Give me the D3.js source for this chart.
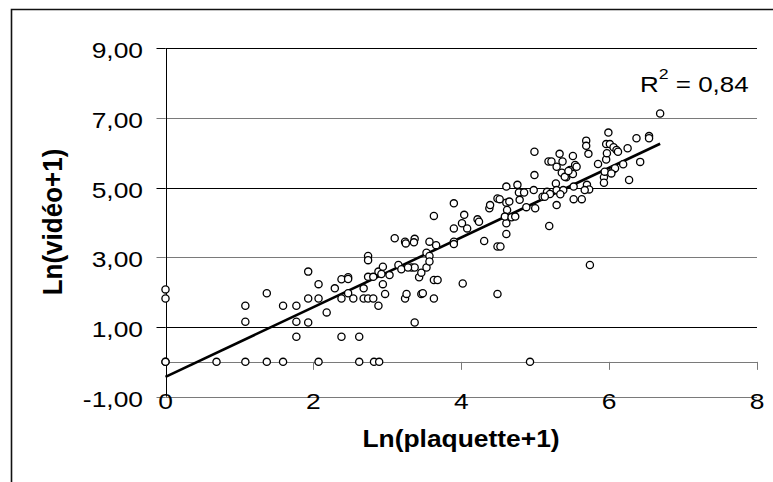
<!DOCTYPE html>
<html><head><meta charset="utf-8">
<script src="https://cdn.jsdelivr.net/npm/d3@7"></script>
<style>body{margin:0;background:#fff}svg{display:block}text{font-family:"Liberation Sans",Arial,sans-serif;fill:#000}</style>
</head><body>
<svg id="c" width="773" height="482"></svg>
<script>
// ---- data ----
const plaquette = [0,0,0.69,1.08,1.37,1.59,2.07,2.62,2.82,2.89,4.93,
 0,0,1.08,1.08,1.37,1.59,1.77,1.77,1.77,1.93,1.93,1.93,2.07,2.07,2.18,2.29,
 2.38,2.38,2.38,2.47,2.47,2.47,2.54,2.62,2.68,2.68,2.74,2.74,2.74,2.74,2.81,2.81,
 2.88,2.88,2.94,2.94,2.92,2.97,3.03,3.10,3.15,3.19,3.24,3.25,3.24,3.26,3.33,3.37,
 3.37,3.36,3.37,3.43,3.46,3.46,3.53,3.53,3.57,3.57,3.57,3.63,3.63,3.68,3.63,3.66,
 3.90,3.90,3.90,3.90,4.01,4.04,4.02,4.08,4.22,4.24,4.31,4.38,4.39,4.49,4.52,4.49,
 4.53,4.49,4.61,4.61,4.62,4.61,4.61,4.59,4.65,4.68,4.73,4.76,4.78,4.79,4.85,4.88,
 4.99,4.99,4.98,5.00,5.10,5.16,5.18,5.22,5.20,5.19,5.28,5.29,5.29,5.29,5.33,5.36,
 5.37,5.42,5.47,5.51,5.51,5.52,5.52,5.54,5.56,5.63,5.69,5.69,5.72,5.70,5.73,5.67,
 5.74,5.85,5.93,5.93,5.94,5.96,5.97,5.96,5.99,6.01,6.06,6.10,6.12,6.06,6.08,6.03,
 6.19,6.25,6.27,6.37,6.42,6.54,6.54,6.69,5.38,5.34,5.13,5.40,5.45,3.48,3.28];
const video = [0,0,0,0,0,0,0,0,0,0,0,
 2.08,1.82,1.61,1.15,1.97,1.61,1.61,1.15,0.72,2.59,1.82,1.13,2.23,1.82,1.42,2.11,
 2.37,1.82,0.72,2.43,2.38,1.97,1.82,0.72,2.11,1.82,3.04,2.92,2.44,1.82,2.44,1.82,
 1.61,2.59,2.73,2.23,2.52,1.95,2.49,3.55,2.78,2.66,3.45,3.40,1.82,1.95,2.71,2.71,
 3.53,3.43,1.13,2.43,2.56,1.95,3.13,2.71,3.45,3.04,2.88,4.19,2.35,2.35,1.82,3.35,
 4.55,3.83,3.45,3.38,3.98,4.22,2.25,3.83,4.09,4.02,3.47,4.41,4.50,4.69,4.67,3.31,
 3.31,1.95,5.03,4.57,4.36,3.98,3.67,4.17,4.60,4.15,4.17,5.08,4.86,4.65,4.86,4.44,
 6.03,5.36,4.93,4.41,4.74,4.88,5.75,5.75,4.82,3.90,5.12,4.93,5.60,4.50,5.97,5.43,
 5.75,5.30,5.51,5.91,5.39,5.03,4.67,5.65,5.60,4.67,6.35,6.20,5.97,5.08,4.95,4.93,
 2.78,5.68,5.30,5.14,5.46,5.81,5.99,6.25,6.58,6.25,6.16,6.08,6.03,5.53,5.56,5.41,
 5.67,6.13,5.22,6.42,5.74,6.48,6.42,7.13,4.93,4.81,4.74,5.31,5.48,1.97,2.71];
const xTicks = [0,2,4,6,8];
const xTickLabels = ["0","2","4","6","8"];
const yTicks = [-1,1,3,5,7,9];
const yTickLabels = ["-1,00","1,00","3,00","5,00","7,00","9,00"];
const trendSlope = 1.0, trendIntercept = -0.43;
const r2Label = "0,84";
const xTitle = "Ln(plaquette+1)", yTitle = "Ln(vidéo+1)";

// ---- drawing ----
const svg = d3.select("#c");
const x = d3.scaleLinear().domain([0,8]).range([165.5,757]);
const y = d3.scaleLinear().domain([-1,9]).range([396.7,48.3]);

// outer frame (partial, as in the reference)
svg.append("path").attr("d","M11.5,482V9.5H773").attr("fill","none").attr("stroke","#111").attr("stroke-width",1.6);

// horizontal gridlines
svg.selectAll("line.grid").data(yTicks).join("line").attr("class","grid")
  .attr("x1",x(0)).attr("x2",x(8))
  .attr("y1",d=>Math.round(y(d))+0.5).attr("y2",d=>Math.round(y(d))+0.5)
  .attr("stroke",(d,i)=> (i%2===0)? "#7a7a7a":"#000").attr("stroke-width",1);

// x axis line at y = 0
svg.append("line").attr("x1",x(0)).attr("x2",x(8))
  .attr("y1",Math.round(y(0))+0.5).attr("y2",Math.round(y(0))+0.5)
  .attr("stroke","#7a7a7a").attr("stroke-width",1);
// x ticks
svg.selectAll("line.xt").data(xTicks).join("line").attr("class","xt")
  .attr("x1",d=>Math.round(x(d))+0.5).attr("x2",d=>Math.round(x(d))+0.5)
  .attr("y1",y(0)).attr("y2",y(0)+8).attr("stroke","#7a7a7a");

// y axis
svg.append("line").attr("x1",Math.round(x(0))+0.5).attr("x2",Math.round(x(0))+0.5)
  .attr("y1",y(9)).attr("y2",y(-1)).attr("stroke","#000");
svg.selectAll("line.yt").data(yTicks).join("line").attr("class","yt")
  .attr("x1",x(0)-9).attr("x2",x(0))
  .attr("y1",d=>Math.round(y(d))+0.5).attr("y2",d=>Math.round(y(d))+0.5)
  .attr("stroke",(d,i)=> (i%2===0)? "#7a7a7a":"#000");

// y tick labels
svg.selectAll("text.yl").data(yTicks).join("text").attr("class","yl")
  .attr("transform",d=>`translate(143,${y(d)+10}) scale(1.2,1)`)
  .attr("text-anchor","end").attr("font-size",22)
  .text((d,i)=>yTickLabels[i]);

// x tick labels
svg.selectAll("text.xl").data(xTicks).join("text").attr("class","xl")
  .attr("transform",d=>`translate(${x(d)},409) scale(1.2,1)`)
  .attr("text-anchor","middle").attr("font-size",22)
  .text((d,i)=>xTickLabels[i]);

// titles
svg.append("text").attr("transform",`translate(461,446.5) scale(1.1,1)`)
  .attr("text-anchor","middle").attr("font-size",24).attr("font-weight","bold").text(xTitle);
svg.append("text").attr("transform",`translate(61.5,222) scale(1.09,1) rotate(-90)`)
  .attr("text-anchor","middle").attr("font-size",26).attr("font-weight","bold").text(yTitle);

// trend line
const xmin = d3.min(plaquette), xmax = d3.max(plaquette);
svg.append("line").attr("x1",x(xmin)).attr("y1",y(trendSlope*xmin+trendIntercept))
  .attr("x2",x(xmax)).attr("y2",y(trendSlope*xmax+trendIntercept))
  .attr("stroke","#000").attr("stroke-width",2.6);

// points
const pts = plaquette.map((v,i)=>[v,video[i]]);
svg.selectAll("circle").data(pts).join("circle")
  .attr("cx",d=>x(d[0])).attr("cy",d=>y(d[1])).attr("r",3.6)
  .attr("fill","#fff").attr("stroke","#000").attr("stroke-width",1.3);

// R² label
const t = svg.append("text").attr("transform","translate(640,91.7) scale(1.18,1)").attr("font-size",22);
t.append("tspan").text("R");
t.append("tspan").attr("font-size",15).attr("dy",-13).text("2");
t.append("tspan").attr("dy",13).text(" = " + r2Label);
</script>
</body></html>
